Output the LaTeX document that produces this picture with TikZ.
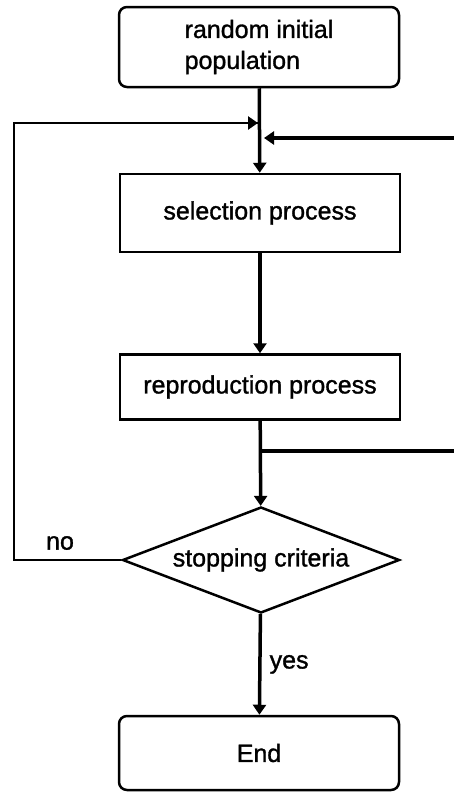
\documentclass[tikz,border=0pt]{standalone}
\usepackage{fontspec}
\setmainfont{Liberation Sans}[FakeBold=1.2]
\usetikzlibrary{arrows.meta,shapes.geometric}

\tikzset{
  box/.style={draw,line width=2.5pt,minimum width=280pt,inner sep=0pt,font=\fontsize{25}{31}\selectfont},
  roundbox/.style={box,rounded corners=8pt},
  decision/.style={draw,diamond,line width=2.5pt,aspect=2.6,minimum width=277pt,minimum height=106pt,inner sep=0pt,font=\fontsize{25}{31}\selectfont},
  flow/.style={line width=3.5pt,-{Triangle[width=13pt,length=10pt]}},
  loop/.style={line width=2.5pt},
  lbl/.style={font=\fontsize{25}{31}\selectfont,inner sep=0pt}
}

\begin{document}
\begin{tikzpicture}[x=1pt,y=-1pt]
  \useasboundingbox (0,0) rectangle (454,793);

  \node[roundbox,minimum height=80pt,align=left] (start) at (259,47) {random initial\\population};
  \node[box,minimum height=78pt] (sel) at (260,213) {selection process};
  \node[box,minimum height=65pt] (repro) at (260,387) {\raisebox{5pt}{reproduction process}};
  \node[decision] (stop) at (261,560) {stopping criteria};
  \node[roundbox,minimum height=74pt] (end) at (259,753) {End};

  \coordinate (inR) at (454,138);
  \coordinate (outR) at (454,451);
  \coordinate (loopL) at (14,560);
  \coordinate (loopT) at (14,123);
  \coordinate (joinL) at (258,123);
  \coordinate (joinR) at (264,138);
  \coordinate (split) at (260,451);

  \draw[flow] (start) -- (sel);
  \draw[flow] (sel) -- (repro);
  \draw[flow] (repro) -- (stop);
  \draw[flow] (stop) -- node[lbl,right=8pt] {yes} (end);

  \draw[loop] (stop.west) -- (loopL) -- (loopT) -- (joinL);
  \draw[loop,-{Triangle[width=13pt,length=10pt]}] ([xshift=-12pt]joinL) -- (joinL);
  \draw[flow] (inR) -- (joinR);
  \draw[line width=3.5pt] (split) -- (outR);
  \node[lbl] (no) at (60,543) {no};
\end{tikzpicture}
\end{document}
